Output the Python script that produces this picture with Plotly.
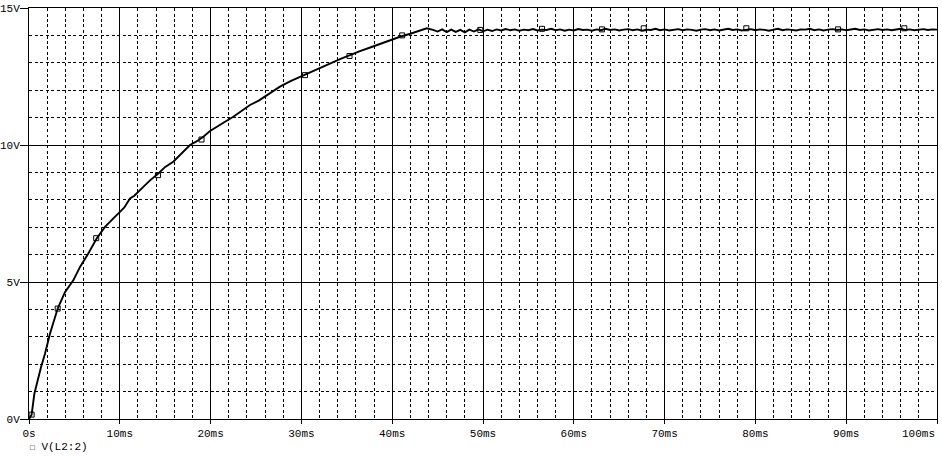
import numpy as np
import plotly.graph_objects as go

# rising part (ms, V)
rise_t = [0.0, 0.29, 0.59, 1.03, 1.32, 1.76, 2.31, 3.16, 3.96, 4.88, 5.62, 6.53, 7.45, 8.37,
          8.95, 9.4, 10.02, 10.5, 11.12, 11.6, 12.59, 13.3, 14.24, 15.0, 15.89, 16.8, 17.73,
          18.4, 19.2, 19.9, 20.67, 21.5, 22.5, 23.4, 24.34, 25.3, 26.18, 27.64, 28.8, 29.85,
          31.0, 32.05, 33.2, 34.25, 35.3, 36.45, 37.5, 38.66, 39.8, 40.86, 42.0, 43.06, 43.8]
rise_v = [0.0, 0.16, 0.92, 1.53, 1.89, 2.38, 3.11, 4.03, 4.63, 5.06, 5.55, 6.04, 6.59, 7.01,
          7.22, 7.36, 7.56, 7.72, 8.05, 8.15, 8.47, 8.70, 8.96, 9.20, 9.39, 9.68, 10.0,
          10.12, 10.30, 10.50, 10.67, 10.83, 11.03, 11.25, 11.46, 11.62, 11.82, 12.13, 12.33, 12.49,
          12.67, 12.80, 12.98, 13.13, 13.28, 13.43, 13.55, 13.69, 13.82, 13.95, 14.06, 14.17, 14.26]

# flat part, sampled every 0.5 ms from 44.5 ms to 100 ms
flat_start, flat_step = 44.5, 0.5
flat_v = [14.20, 14.14, 14.22, 14.12, 14.21, 14.13, 14.20, 14.11, 14.21, 14.14,
          14.22, 14.15, 14.21, 14.16, 14.22, 14.18, 14.23, 14.19, 14.22, 14.17,
          14.21, 14.19, 14.23, 14.18, 14.21, 14.20, 14.24, 14.19, 14.22, 14.17,
          14.21, 14.18, 14.23, 14.20, 14.21, 14.17, 14.22, 14.19, 14.24, 14.20,
          14.22, 14.18, 14.21, 14.23, 14.19, 14.22, 14.17, 14.21, 14.20, 14.24,
          14.19, 14.22, 14.18, 14.21, 14.23, 14.19, 14.22, 14.20, 14.17, 14.21,
          14.23, 14.19, 14.22, 14.18, 14.21, 14.24, 14.20, 14.22, 14.18, 14.21,
          14.23, 14.19, 14.22, 14.20, 14.17, 14.21, 14.24, 14.19, 14.22, 14.20,
          14.18, 14.22, 14.21, 14.24, 14.19, 14.22, 14.18, 14.21, 14.23, 14.20,
          14.22, 14.19, 14.21, 14.24, 14.20, 14.22, 14.18, 14.21, 14.23, 14.20,
          14.22, 14.19, 14.21, 14.24, 14.20, 14.22, 14.19, 14.21, 14.23, 14.20,
          14.22, 14.21]

marker_t = [0.29, 3.16, 7.4, 14.2, 19.0, 30.4, 35.3, 41.1, 49.7, 56.5, 63.1, 67.7, 79.0, 89.1, 96.4]
marker_v = [0.16, 4.03, 6.6, 8.9, 10.2, 12.55, 13.25, 14.0, 14.2, 14.24, 14.22, 14.26, 14.26, 14.22, 14.26]

x_tickvals = [0, 10, 20, 30, 40, 50, 60, 70, 80, 90, 100]
x_ticktext = ["0s", "10ms", "20ms", "30ms", "40ms", "50ms", "60ms", "70ms", "80ms", "90ms", "100ms"]
y_tickvals = [0, 5, 10, 15]
y_ticktext = ["0V", "5V", "10V", "15V"]
trace_name = "V(L2:2)"

flat_t = list(flat_start + flat_step * np.arange(len(flat_v)))
t_all = rise_t + flat_t
v_all = rise_v + flat_v

FONT = "Liberation Mono, Courier New, monospace"
TICKFONT = dict(family=FONT, size=11, color="black")

fig = go.Figure()
fig.add_trace(go.Scatter(x=t_all, y=v_all, mode="lines",
                         line=dict(color="black", width=1.9), showlegend=False,
                         cliponaxis=False))
fig.add_trace(go.Scatter(x=marker_t, y=marker_v, mode="markers",
                         marker=dict(symbol="square-open", size=5, color="black",
                                     line=dict(width=1, color="black")),
                         showlegend=False, cliponaxis=False))

grid_minor = dict(showgrid=True, gridcolor="black", gridwidth=1, griddash="3px,2.5px")

# last x label is drawn right-aligned to its tick (as in the reference)
x_text_axis = x_ticktext[:-1] + [""]

fig.update_xaxes(range=[0, 100], tickvals=x_tickvals, ticktext=x_text_axis,
                 showgrid=True, gridcolor="black", gridwidth=1,
                 minor=dict(dtick=2, tick0=0, **grid_minor),
                 ticks="outside", ticklen=4, tickcolor="black", tickwidth=1,
                 showline=True, linecolor="black", linewidth=1, mirror=True,
                 automargin=False, zeroline=False, tickfont=TICKFONT)
fig.update_yaxes(range=[0, 15], tickvals=y_tickvals, ticktext=y_ticktext,
                 showgrid=True, gridcolor="black", gridwidth=1,
                 minor=dict(dtick=1, tick0=0, **grid_minor),
                 ticks="outside", ticklen=8, tickcolor="black", tickwidth=1,
                 ticklabelstandoff=-2, automargin=False,
                 showline=True, linecolor="black", linewidth=1, mirror=True,
                 zeroline=False, tickfont=TICKFONT)

fig.add_annotation(xref="x", yref="paper", x=x_tickvals[-1], y=0, yshift=-15,
                   xanchor="right", yanchor="middle", showarrow=False,
                   text=x_ticktext[-1], font=TICKFONT)

fig.add_annotation(xref="paper", yref="paper", x=0, y=0, yshift=-28, xshift=-1,
                   xanchor="left", yanchor="middle", showarrow=False,
                   text="<span style='font-size:8px'>□</span> " + trace_name,
                   font=TICKFONT)

fig.update_layout(width=942, height=458, margin=dict(l=29, r=5, t=8, b=39),
                  paper_bgcolor="white", plot_bgcolor="white", showlegend=False)

fig.write_html("out.html", config={"displayModeBar": False},
               post_script="document.body.style.margin='0';")
